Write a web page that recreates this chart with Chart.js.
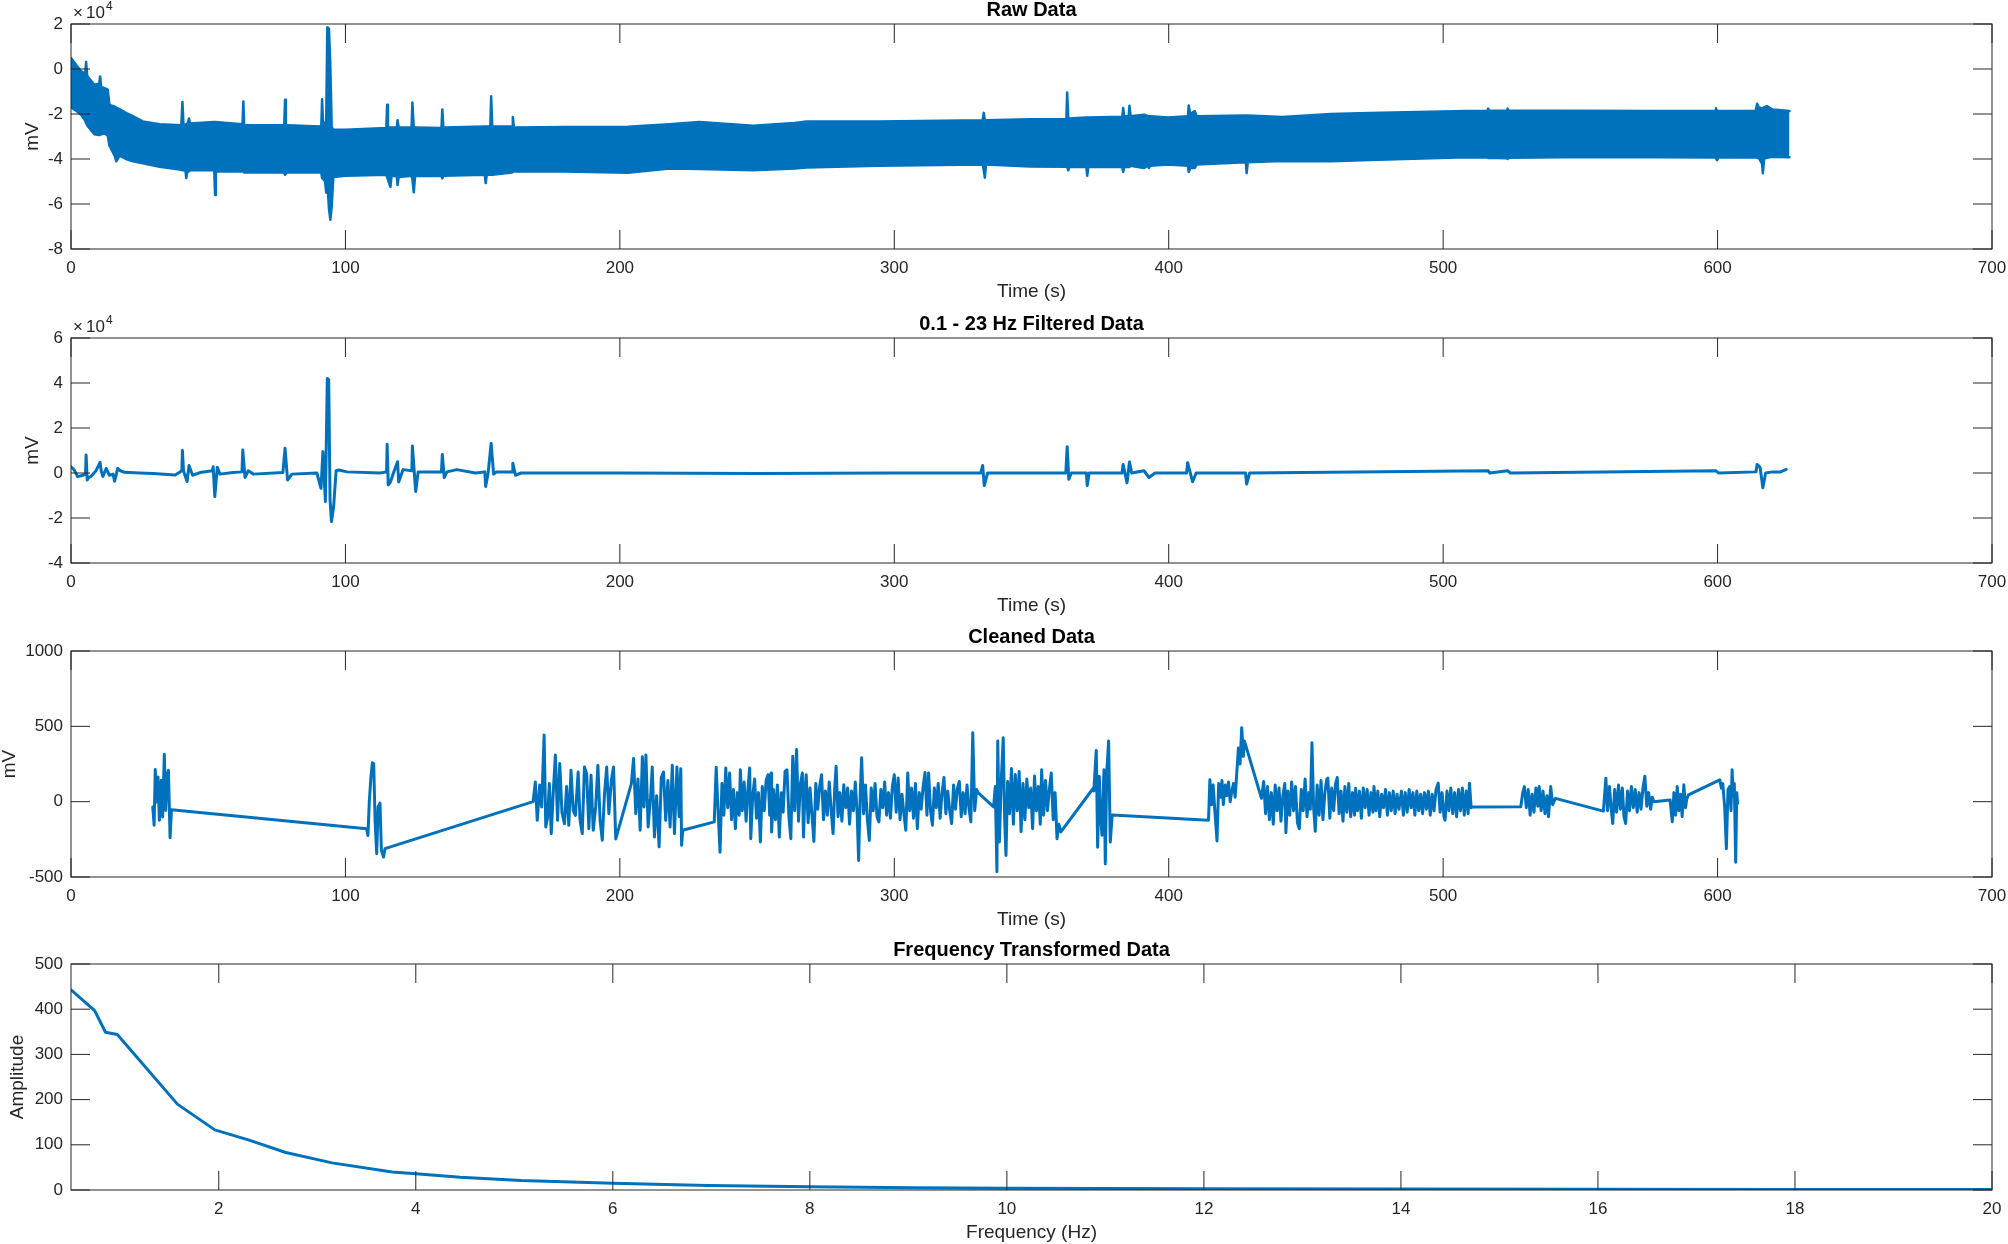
<!DOCTYPE html>
<html><head><meta charset="utf-8">
<script src="https://cdn.jsdelivr.net/npm/chart.js@4.4.1/dist/chart.umd.min.js"></script>
<style>
html,body{margin:0;padding:0;background:#fff;overflow:hidden;width:2008px;height:1244px;position:relative;}
canvas{position:absolute;left:0;}
</style></head><body>
<canvas id="c1"></canvas><canvas id="c2"></canvas><canvas id="c3"></canvas><canvas id="c4"></canvas>
<script>
// ---------- tick labels ----------
const timeTicks = [0,100,200,300,400,500,600,700];
const rawTicks = [-8,-6,-4,-2,0,2];
const filtTicks = [-4,-2,0,2,4,6];
const cleanTicks = [-500,0,500,1000];
const freqTicks = [2,4,6,8,10,12,14,16,18,20];
const ampTicks = [0,100,200,300,400,500];

// ---------- Raw data (x10^4 mV): upper / lower edge of the dense trace ----------
const rawTime  = [0,1.8,3.7,5.2,5.5,5.9,6.5,8.5,10.3,10.6,11.0,12.2,13.4,14,15.9,16.5,17.7,20,22.6,26.2,32.3,40.2,40.6,41.0,41.7,42.0,42.4,43,43.4,52.2,52.5,52.8,62.5,62.8,63.1,77.7,78.0,78.3,78.8,91.2,91.5,91.9,92.6,93.0,93.4,94.0,94.5,95.0,95.6,100,114.9,115.2,115.5,116.4,116.8,118.7,119.0,119.4,124.1,124.4,124.9,125.4,135.0,135.3,135.7,150.8,151.1,151.5,152.8,153.1,153.5,160.7,161.0,161.4,180,203,218,229,248.6,263.7,268,294,332.2,332.6,333.0,333.4,349.5,362.7,363.0,363.4,363.8,370.0,370.3,370.7,383.1,383.4,383.8,385.4,385.7,386.1,391,392.5,392.8,393.2,399.8,407.0,407.3,407.8,409.5,410.2,428.1,428.4,428.8,441.3,459,473.1,508.4,516.1,516.4,516.8,523.2,523.5,523.9,543.8,579,599.1,599.4,599.8,600.3,613.9,614.4,615.0,616.2,616.5,617.0,618,620,626.2];
const rawUpper = [0.49,0.19,-0.1,-0.2,0.31,-0.3,-0.4,-0.7,-0.65,-0.33,-0.8,-0.85,-0.92,-1.6,-1.66,-1.72,-1.78,-1.95,-2.1,-2.33,-2.45,-2.5,-1.47,-2.48,-2.48,-2.45,-2.45,-2.2,-2.42,-2.35,-2.35,-2.35,-2.45,-1.44,-2.5,-2.5,-1.37,-2.5,-2.5,-2.55,-1.34,-2.55,-2.4,-2.3,1.85,1.8,0.1,-2.6,-2.7,-2.7,-2.62,-1.59,-2.6,-2.6,-2.6,-2.6,-2.28,-2.6,-2.6,-1.49,-2.6,-2.6,-2.62,-1.8,-2.6,-2.55,-2.55,-2.55,-2.55,-1.21,-2.55,-2.55,-2.13,-2.6,-2.58,-2.57,-2.45,-2.36,-2.52,-2.4,-2.33,-2.33,-2.28,-1.95,-2.28,-2.28,-2.23,-2.23,-1.04,-2.2,-2.2,-2.16,-2.16,-2.16,-2.12,-1.73,-2.1,-2.1,-1.63,-2.1,-2.03,-2.1,-2.1,-2.1,-2.16,-2.1,-1.62,-2.0,-1.87,-2.1,-2.07,-2.07,-2.07,-2.13,-2.0,-1.95,-1.87,-1.86,-1.76,-1.86,-1.85,-1.76,-1.85,-1.85,-1.87,-1.86,-1.74,-1.86,-1.87,-1.85,-1.54,-1.7,-1.75,-1.75,-1.7,-1.65,-1.8,-1.87];
const rawLower = [-1.7,-1.85,-2.04,-2.3,-2.4,-2.5,-2.6,-2.9,-2.93,-2.93,-2.9,-2.85,-2.95,-3.4,-3.85,-4.1,-3.85,-4.0,-4.1,-4.19,-4.35,-4.48,-4.5,-4.5,-4.5,-4.85,-4.55,-4.55,-4.5,-4.5,-5.6,-4.55,-4.55,-4.55,-4.6,-4.6,-4.7,-4.7,-4.6,-4.6,-4.85,-4.9,-5.0,-5.5,-5.0,-6.2,-6.7,-6.1,-4.8,-4.75,-4.7,-4.8,-4.8,-5.24,-4.75,-4.75,-5.16,-4.8,-4.75,-4.9,-5.48,-4.75,-4.75,-4.86,-4.75,-4.7,-5.07,-4.7,-4.7,-4.7,-4.7,-4.6,-4.6,-4.55,-4.55,-4.61,-4.42,-4.45,-4.5,-4.42,-4.38,-4.3,-4.25,-4.5,-4.83,-4.25,-4.33,-4.35,-4.35,-4.5,-4.35,-4.35,-4.75,-4.35,-4.35,-4.58,-4.35,-4.35,-4.35,-4.3,-4.4,-4.3,-4.4,-4.3,-4.25,-4.3,-4.58,-4.4,-4.4,-4.25,-4.15,-4.63,-4.15,-4.09,-4.1,-4.04,-3.92,-3.93,-3.95,-3.95,-3.97,-4.0,-3.95,-3.92,-3.92,-3.93,-3.95,-4.05,-3.93,-3.93,-3.95,-3.95,-4.2,-4.63,-3.95,-3.95,-3.9,-3.92];

// ---------- 0.1 - 23 Hz filtered (x10^4 mV): [time s, value] ----------
const filtered = [[0,0.28],[1.2,0.13],[2.4,-0.16],[4.3,-0.1],[5.3,-0.05],[5.5,0.8],[5.9,-0.31],[6.5,-0.2],[7.3,-0.15],[9.1,0.1],[10.6,0.47],[11,0.1],[11.6,-0.15],[12.8,0.2],[14,-0.1],[15.3,-0.05],[15.9,-0.36],[17,0.2],[18,0.1],[19.5,0.03],[25,0.0],[30,-0.02],[38,-0.09],[40.4,0.1],[40.6,1.0],[41,0.1],[42.3,-0.38],[43,0.33],[44.3,-0.1],[47,0.02],[51.5,0.1],[51.8,0.28],[52.4,-1.05],[53.3,0.25],[54.3,-0.05],[59,0.02],[62.3,0.05],[62.6,1.02],[63.4,-0.2],[64.6,0.1],[66.5,-0.05],[77.2,0.02],[78,1.1],[78.9,-0.31],[80.5,-0.05],[89.6,0.0],[91.1,-0.68],[91.8,0.95],[92.7,-1.27],[93.4,4.2],[93.9,4.15],[94.4,-1.2],[94.9,-2.16],[95.7,-1.5],[96.6,0.1],[97.6,0.13],[100.6,0.05],[112.6,0],[115,0.05],[115.2,1.28],[115.6,-0.53],[116.4,-0.4],[117.5,0],[119,0.5],[119.4,-0.4],[121,0.15],[124.2,0.1],[124.4,1.2],[125.6,-0.82],[126.5,0.05],[135,0.05],[135.3,0.82],[136,-0.2],[137,0.05],[140.6,0.15],[147.4,0],[150.8,0.05],[151.1,-0.6],[152,0],[153.1,1.32],[154,-0.05],[155,0.05],[160.8,0.05],[161,0.43],[162,-0.1],[164,0],[200,0],[250,-0.02],[300,0],[331.5,0],[332.2,0.33],[332.8,-0.56],[334,0],[362.5,0],[363,1.17],[363.6,-0.28],[364.5,0],[370,0],[370.3,-0.56],[371,0],[383,0],[383.4,0.38],[384.8,-0.44],[385.7,0.49],[386.5,0],[391,0.1],[392.8,-0.2],[395,0],[406.5,0],[406.9,0.46],[408.7,-0.39],[410,0],[428,0],[428.4,-0.49],[429.5,0],[516.4,0.1],[517,0],[523.5,0.1],[524.5,0],[599.4,0.1],[600.3,0],[614,0.05],[614.4,0.38],[615.5,0.25],[616.5,-0.66],[617.5,0],[620,0.05],[623,0.05],[625,0.16]];

// ---------- Cleaned data (mV): [time s, value] ----------
const cleaned = [[29.8,-35],[30.3,-157],[30.7,213],[31.2,-2],[31.7,164],[32.2,-124],[32.9,142],[33.4,-102],[34.0,315],[34.5,-58],[35.1,186],[35.5,208],[36.1,-240],[36.6,-53],
[107.7,-179],[108.2,-224],[108.7,0],[109.3,164],[109.8,258],[110.3,253],[110.8,-124],[111.4,-346],[111.9,-35],[112.6,-10],[113.1,-323],[113.9,-367],[114.4,-312],
[168.4,0],[169.2,131],[169.9,-124],[170.8,110],[171.5,-35],[172.4,442],[173.0,-168],[173.7,-100],[174.3,120],[175.0,-212],[175.7,50],[176.5,309],[177.3,-124],[178.1,253],[178.9,-70],[179.8,-146],[180.6,100],[181.4,-157],[182.2,208],[183.0,-58],[183.8,-91],[184.8,197],[185.5,-124],[186.3,-212],[187.1,230],[187.9,186],[188.7,-179],[189.5,175],[190.3,-190],[191.2,-35],[192.0,241],[192.8,-124],[193.6,-256],[194.4,50],[195.2,230],[196.0,-80],[196.9,142],[197.7,230],[198.5,-247],
[204.2,120],[205.0,287],[205.8,-80],[206.6,150],[207.4,-190],[208.2,298],[208.8,-35],[209.5,309],[210.3,-168],[211.2,30],[211.8,230],[212.6,-235],[213.4,40],[214.3,-300],[215.1,160],[215.9,197],[216.7,-124],[217.5,140],[218.3,-168],[219.1,241],[219.9,-212],[220.8,230],[221.6,-100],[222.2,219],[222.5,-290],[222.9,-190],
[234.4,-134],[235.1,228],[235.8,-60],[236.5,-335],[237.2,120],[237.9,-90],[238.6,224],[239.3,-40],[240.0,190],[240.7,-120],[241.4,80],[242.1,-179],[242.8,60],[243.5,-90],[243.9,212],[244.6,-60],[245.3,130],[246.0,-130],[246.7,90],[247.3,224],[247.7,-246],[248.4,40],[249.1,150],[249.8,-110],[250.5,60],[251.2,-268],[251.9,100],[252.6,-60],[253.3,140],[254.0,179],[254.6,-90],[255.1,190],[255.3,-201],[256.0,80],[256.7,-120],[257.4,110],[258.1,-235],[258.8,60],[259.5,-70],[260.2,201],[260.9,212],[261.6,-100],[262.3,-246],[263.0,302],[263.7,-60],[264.4,346],[265.1,-130],[265.8,120],[266.5,190],[266.9,-235],[267.5,80],[267.9,179],[268.6,-140],[269.3,90],[270.0,-90],[270.7,-264],[271.4,120],[272.1,-50],[272.8,100],[273.5,179],[274.2,-120],[274.9,70],[275.6,-90],[276.3,130],[277.0,-60],[277.7,-212],[278.3,90],[278.8,235],[279.5,-100],[280.2,60],[280.9,-130],[281.6,112],[282.3,-40],[283.0,90],[283.7,-150],[284.4,70],[285.1,-60],[285.8,130],[286.5,-90],[287.0,-391],[287.6,60],[288.1,291],[288.8,-80],[289.5,110],[290.2,-120],[290.9,-257],[291.6,90],[292.3,-60],[293.0,120],[293.7,-100],[294.4,-134],[295.1,80],[295.8,-40],[296.5,130],[297.2,-90],[297.9,60],[298.6,-110],[299.3,100],[300.0,179],[300.7,-70],[301.4,157],[302.1,-120],[302.8,50],[303.5,-80],[304.2,-190],[304.9,190],[305.6,-60],[306.3,90],[307.0,-110],[307.7,120],[308.4,-179],[309.1,60],[309.8,-50],[310.5,100],[311.2,194],[311.9,-90],[312.5,190],[313.2,-60],[313.9,-156],[314.6,90],[315.3,-40],[316.0,120],[316.7,-110],[317.4,60],[318.1,161],[318.8,-80],[319.5,70],[320.2,-60],[320.9,-145],[321.6,110],[322.3,-50],[323.0,90],[323.7,134],[324.4,-100],[325.1,60],[325.8,-80],[326.5,110],[327.2,-40],[327.9,-134],[328.6,458],[329.3,-60],[330.0,80],[330.7,56],
[336.2,-34],[336.8,100],[337.4,-465],[337.7,402],[338.3,-268],[339.0,150],[339.7,424],[340.2,-100],[340.7,-357],[341.3,134],[342.0,-80],[342.7,220],[343.4,-150],[344.1,180],[344.8,-60],[345.5,200],[346.2,-200],[346.9,120],[347.6,-120],[348.3,150],[349.0,-40],[349.7,90],[350.4,-180],[351.1,170],[351.8,-60],[352.5,100],[353.2,-150],[353.7,212],[354.4,-90],[355.1,140],[355.8,-60],[356.5,80],[357.2,190],[357.9,-120],[358.6,60],[359.3,-246],[360.0,-150],[360.7,-201],
[372.5,89],[372.7,71],[373.6,340],[374.1,-302],[374.7,168],[375.2,-100],[375.7,-223],[376.4,212],[376.9,-413],[377.4,190],[378.1,402],[378.7,-268],[379.4,-89],
[414.5,-123],[415.0,145],[415.6,-20],[416.2,110],[416.8,-60],[417.6,-261],[418.2,120],[418.8,30],[419.4,140],[419.9,-20],[420.6,110],[421.2,40],[421.8,130],[422.4,0],[422.9,60],[423.6,120],[424.2,30],[424.6,134],[425.4,357],[426.0,250],[426.6,491],[427.2,300],[427.6,402],
[433.8,22],[434.6,134],[435.3,-80],[436.0,100],[436.7,-120],[437.4,60],[438.1,-150],[438.8,110],[439.5,-60],[440.2,90],[440.9,-130],[441.6,40],[442.3,120],[442.7,-206],[443.4,70],[444.1,-90],[444.8,130],[445.5,-60],[446.2,100],[446.9,-140],[447.6,-180],[448.3,80],[449.0,-60],[449.7,150],[450.4,-100],[451.1,60],[451.6,-50],[452.2,391],[452.8,-40],[453.4,-197],[454.1,110],[454.8,-90],[455.5,140],[456.2,-120],[456.9,60],[457.6,150],[458.0,156],[458.7,-110],[459.4,90],[460.1,-60],[460.8,120],[461.4,160],[462.1,-80],[462.8,70],[463.5,-130],[464.2,100],[464.9,-70],[465.6,120],[466.3,-100],[467.0,60],[467.7,-90],[468.1,89],[468.8,-60],[469.5,70],[470.2,-110],[470.9,90],[471.6,-40],[472.3,80],[473.0,-90],[473.7,60],[474.4,-70],[474.8,100],[475.5,-60],[476.2,70],[476.9,-100],[477.6,50],[478.3,-40],[479.0,80],[479.7,-90],[480.4,60],[481.1,-60],[481.8,70],[482.5,-80],[483.2,50],[483.9,-50],[484.8,70],[485.5,-90],[486.2,60],[486.9,-70],[487.6,80],[488.3,-40],[489.0,60],[489.7,-90],[490.4,70],[491.1,-60],[491.8,50],[492.5,-80],[493.2,60],[493.9,-50],[494.6,70],[495.3,-90],[496.0,50],[496.7,-60],[497.4,80],[498.2,123],[498.9,-70],[499.6,60],[500.3,-100],[500.7,-123],[501.4,70],[502.1,-60],[502.8,90],[503.5,-80],[504.2,60],[504.9,-100],[505.6,80],[506.3,-60],[507.0,90],[507.7,-90],[508.4,70],[509.1,-80],[509.6,123],[510.2,-40],[510.7,-35],
[528.3,-34],[529.0,60],[529.6,100],[530.3,-40],[531.0,80],[531.7,-90],[532.4,50],[533.1,-70],[533.8,90],[534.5,-30],[535.0,100],[535.7,-60],[536.4,70],[537.1,-80],[537.8,40],[538.4,-100],[539.2,100],[539.9,-20],[540.9,22],
[558.4,-63],[559.3,156],[559.9,-60],[560.6,100],[561.2,-40],[561.8,-145],[562.5,80],[563.2,-70],[563.9,110],[564.6,-50],[565.3,90],[565.9,-100],[566.5,-145],[567.2,70],[567.9,-60],[568.6,100],[569.3,-40],[570.0,80],[570.7,-70],[571.4,60],[572.1,-50],[572.8,90],[573.5,168],[574.2,-30],[574.9,60],[575.6,-50],[576.2,30],[576.8,0],
[582.7,11],[583.5,-134],[584.1,60],[584.7,-90],[585.3,100],[585.9,-60],[586.5,50],[587.1,-100],[587.7,112],[588.3,-40],[588.8,20],[589.4,45],
[600.8,145],[601.4,90],[601.9,120],[602.6,-40],[603.2,-313],[603.8,80],[604.4,100],[604.9,-60],[605.3,212],[605.7,40],[606.1,120],[606.6,-402],[607.0,60],[607.3,-11]];

// ---------- Frequency transformed ----------
const freqHz    = [0.5,0.74,0.85,0.97,1.58,1.96,2.3,2.68,3.15,3.76,4.0,4.45,5.07,6,6.96,8,9.04,10,12,14,16,18,20];
const amplitude = [443,397,349,344,190,133,111,83,60,40,36,28,21,15,10,7,5,4,3,2,1.5,1.3,1];

// ---------- layout ----------
const BLUE = '#0072BD';
const INK = '#262626';
const FONT = '"Liberation Sans", Arial, Helvetica, sans-serif';
Chart.defaults.font.family = FONT;
const PLOT_TOP = [24, 338, 651, 964];
const PLOT_H = [225, 225, 226, 226];
const TITLE_H = 30, XAXIS_H = 56, Y_W = 71, CANVAS_W = 2063, TICK_LEN = 19;

function makeFrame(exponent) {
  return {
    id: 'matlabFrame',
    afterDraw(chart) {
      const {ctx, chartArea: a, scales} = chart;
      ctx.save();
      ctx.strokeStyle = INK; ctx.lineWidth = 1;
      ctx.strokeRect(a.left, a.top, a.right - a.left, a.bottom - a.top);
      ctx.beginPath();
      scales.x.ticks.forEach(t => {
        const p = scales.x.getPixelForValue(t.value);
        ctx.moveTo(p, a.bottom); ctx.lineTo(p, a.bottom - TICK_LEN);
        ctx.moveTo(p, a.top); ctx.lineTo(p, a.top + TICK_LEN);
      });
      scales.y.ticks.forEach(t => {
        const p = scales.y.getPixelForValue(t.value);
        ctx.moveTo(a.left, p); ctx.lineTo(a.left + TICK_LEN, p);
        ctx.moveTo(a.right, p); ctx.lineTo(a.right - TICK_LEN, p);
      });
      ctx.stroke();
      if (exponent) {
        ctx.fillStyle = INK; ctx.textAlign = 'left'; ctx.textBaseline = 'alphabetic';
        ctx.font = '17px ' + FONT;
        const y0 = a.top - 6;
        ctx.fillText('\u00d7', a.left + 2, y0);
        ctx.fillText('10', a.left + 15, y0);
        ctx.font = '12px ' + FONT;
        ctx.fillText(exponent, a.left + 35, y0 - 8);
      }
      ctx.restore();
    }
  };
}

function makeChart(id, idx, cfg) {
  const h = TITLE_H + PLOT_H[idx] + XAXIS_H;
  const cv = document.getElementById(id);
  cv.width = CANVAS_W; cv.height = h;
  cv.style.width = CANVAS_W + 'px'; cv.style.height = h + 'px';
  cv.style.top = (PLOT_TOP[idx] - TITLE_H) + 'px';
  const tickFont = {size: 17, family: FONT};
  return new Chart(cv, {
    type: 'line',
    data: {datasets: cfg.datasets},
    options: {
      responsive: false, animation: false, devicePixelRatio: 1,
      layout: {padding: {left: 0, right: CANVAS_W - 1992, top: 0, bottom: 0}},
      plugins: {
        legend: {display: false}, tooltip: {enabled: false},
        title: {display: true, fullSize: false, text: cfg.title, color: '#000',
          font: {size: 20, weight: 'bold', family: FONT, lineHeight: 1.2},
          padding: {top: 4, bottom: 2}}
      },
      elements: {point: {radius: 0}, line: {tension: 0, borderJoinStyle: 'round', borderCapStyle: 'round'}},
      scales: {
        x: {
          type: 'linear', min: cfg.xMin, max: cfg.xMax,
          afterBuildTicks: s => { s.ticks = cfg.xTicks.map(v => ({value: v})); },
          afterFit: s => { s.height = XAXIS_H; },
          grid: {display: false, drawTicks: false}, border: {display: false},
          ticks: {autoSkip: false, maxRotation: 0, padding: 9, color: INK, font: tickFont, callback: v => String(v)},
          title: {display: true, text: cfg.xTitle, color: INK, font: {size: 19, family: FONT}, padding: {top: 0, bottom: 2}}
        },
        y: {
          type: 'linear', min: cfg.yMin, max: cfg.yMax,
          afterBuildTicks: s => { s.ticks = cfg.yTicks.map(v => ({value: v})); },
          afterFit: s => { s.width = Y_W; },
          grid: {display: false, drawTicks: false}, border: {display: false},
          ticks: {autoSkip: false, padding: 8, color: INK, font: tickFont, callback: v => String(v)},
          title: {display: true, text: cfg.yTitle, color: INK, font: {size: 19, family: FONT}, padding: {top: cfg.yTitlePad, bottom: 0}}
        }
      }
    },
    plugins: [makeFrame(cfg.exponent)]
  });
}

const pts = arr => arr.map(p => ({x: p[0], y: p[1]}));

makeChart('c1', 0, {
  title: 'Raw Data', xTitle: 'Time (s)', yTitle: 'mV', yTitlePad: 21,
  xMin: 0, xMax: 700, xTicks: timeTicks, yMin: -8, yMax: 2, yTicks: rawTicks, exponent: '4',
  datasets: [
    {data: rawTime.map((t, i) => ({x: t, y: rawUpper[i]})), borderColor: BLUE, backgroundColor: BLUE, borderWidth: 2.5, fill: '+1'},
    {data: rawTime.map((t, i) => ({x: t, y: rawLower[i]})), borderColor: BLUE, borderWidth: 2.5, fill: false}
  ]
});
makeChart('c2', 1, {
  title: '0.1 - 23 Hz Filtered Data', xTitle: 'Time (s)', yTitle: 'mV', yTitlePad: 21,
  xMin: 0, xMax: 700, xTicks: timeTicks, yMin: -4, yMax: 6, yTicks: filtTicks, exponent: '4',
  datasets: [{data: pts(filtered), borderColor: BLUE, borderWidth: 3, fill: false}]
});
makeChart('c3', 2, {
  title: 'Cleaned Data', xTitle: 'Time (s)', yTitle: 'mV', yTitlePad: -2,
  xMin: 0, xMax: 700, xTicks: timeTicks, yMin: -500, yMax: 1000, yTicks: cleanTicks,
  datasets: [{data: pts(cleaned), borderColor: BLUE, borderWidth: 3, fill: false}]
});
makeChart('c4', 3, {
  title: 'Frequency Transformed Data', xTitle: 'Frequency (Hz)', yTitle: 'Amplitude', yTitlePad: 6,
  xMin: 0.5, xMax: 20, xTicks: freqTicks, yMin: 0, yMax: 500, yTicks: ampTicks,
  datasets: [{data: freqHz.map((f, i) => ({x: f, y: amplitude[i]})), borderColor: BLUE, borderWidth: 3, fill: false}]
});
</script>
</body></html>
